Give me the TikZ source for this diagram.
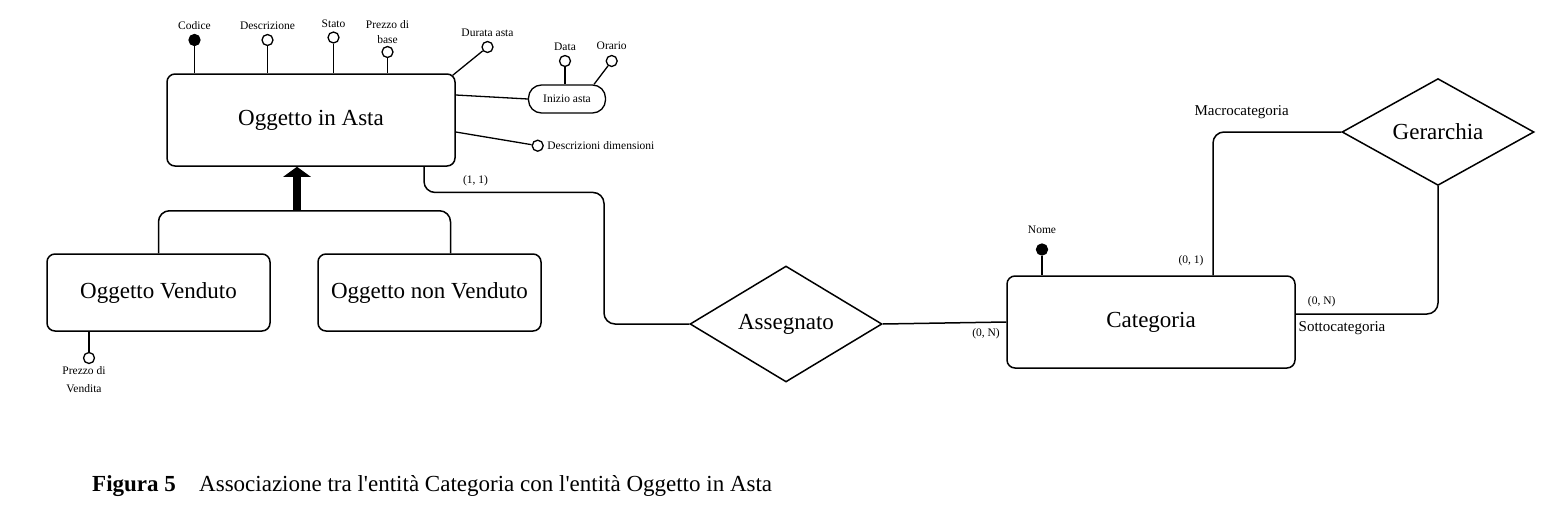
\documentclass[tikz,border=0pt]{standalone}
\usepackage{fontspec}
\setmainfont{Liberation Serif}
\usepackage{tikz}
\usetikzlibrary{shapes.geometric}
\usetikzlibrary{arrows.meta}

\tikzset{
  entity/.style={draw, line width=1.5pt, rounded corners=8pt, minimum width=288pt, minimum height=92pt, font=\fontsize{23}{27}\selectfont},
  relation/.style={draw, diamond, line width=1.5pt, minimum width=192pt, minimum height=96pt, inner sep=0pt, font=\fontsize{23}{27}\selectfont},
  attr/.style={draw, circle, line width=1.3pt, fill=white, inner sep=0pt, minimum size=11pt},
  keyattr/.style={attr, fill=black},
  pill/.style={draw, line width=1.3pt, rounded corners=13pt, minimum width=77pt, minimum height=28pt, font=\fontsize{11.5}{14}\selectfont},
  small/.style={font=\fontsize{11.5}{15}\selectfont, align=center},
  role/.style={font=\fontsize{15}{18}\selectfont},
  link/.style={line width=1.5pt, rounded corners=11pt},
  thin link/.style={line width=1.3pt},
}

\begin{document}
\begin{tikzpicture}[x=1pt, y=-1pt, every label/.style={small}, label distance=1pt]

\useasboundingbox (0,0) rectangle (1558,522);

% entita' e associazioni
\node[entity] (asta) at ( 311.0, 120.0) {Oggetto in Asta};
\node[entity, minimum width=223pt, minimum height=77pt] (ov)  at ( 158.5, 292.5) {Oggetto Venduto};
\node[entity, minimum width=223pt, minimum height=77pt] (onv) at ( 429.5, 292.5) {Oggetto non Venduto};
\node[entity] (cat) at (1151.0, 322.0) {Categoria};
\node[relation] (ass) at ( 786.0, 324.0) {Assegnato};
\node[relation] (ger) at (1438.0, 132.0) {Gerarchia};
\node[pill] (inizio) at ( 567.0,  99.0) {Inizio asta};

% attributi
\node[keyattr, label={above:Codice}]      (codice) at ( 194.5,  40.0) {};
\node[attr, label={above:Descrizione}]    (descr)  at ( 267.5,  40.0) {};
\node[attr, label={[label distance=0pt]above:Stato}] (stato) at ( 333.5,  37.5) {};
\node[attr, label={[label distance=-1pt]above:Prezzo di\\base}] (pbase) at ( 387.5,  52.0) {};
\node[attr, label={above:Durata asta}]    (durata) at ( 487.5,  47.0) {};
\node[attr, label={[label distance=1pt]above:Data}]   (data)   at ( 565.0,  61.0) {};
\node[attr, label={[label distance=2pt]above:Orario}] (orario) at ( 611.7,  61.0) {};
\node[attr, label={[label distance=0pt]right:Descrizioni dimensioni}] (ddim) at ( 537.7, 145.7) {};
\node[attr, label={[label distance=-1pt, xshift=-5pt]below:Prezzo di\\[3pt]Vendita}] (pvend) at (  89.0, 358.0) {};
\node[keyattr, label={[label distance=6pt]above:Nome}] (nome) at (1042.0, 249.5) {};

\draw[thin link] (codice) -- (codice |- asta.north);
\draw[thin link] (descr)  -- (descr  |- asta.north);
\draw[thin link] (stato)  -- (stato  |- asta.north);
\draw[thin link] (pbase)  -- (pbase  |- asta.north);
\draw[thin link] (durata) -- ([xshift=-3pt,yshift=-2pt]asta.north east);
\draw[thin link] ([yshift=25pt]asta.east) -- (inizio.west);
\draw[thin link] (data)   -- (data |- inizio.north);
\draw[thin link] (orario) -- ([xshift=27pt]inizio.north);
\draw[thin link] ([yshift=-12pt]asta.east) -- (ddim);
\draw[thin link] (pvend)  -- (pvend |- ov.south);
\draw[thin link] (nome)   -- (nome |- cat.north);

% generalizzazione
\coordinate (gen) at ([xshift=-14pt,yshift=-44pt]asta.south);
\draw[link] (ov.north) |- (gen) -| ([xshift=21pt]onv.north);
\draw[line width=8pt, -{Triangle[width=27pt,length=10pt]}] (gen) -- (gen |- asta.south);

% collegamenti
\draw[link] ([xshift=113pt]asta.south) |- ++(180,25.7) |- (ass.west);
\draw[link] (ass.east) -- (cat.west);
\draw[link] ([xshift=62pt]cat.north) |- (ger.west);
\draw[link] ([yshift=8pt]cat.east) -| (ger.south);

% cardinalita' e ruoli
\node[small] (c11)  at ( 475.5, 181.0) {(1, 1)};
\node[small] (c0n)  at ( 986.0, 334.0) {(0, N)};
\node[small] (c01)  at (1191.0, 261.0) {(0, 1)};
\node[small] (c0ns) at (1321.7, 301.5) {(0, N)};
\node[role] (macro) at (1241.7, 111.7) {Macrocategoria};
\node[role] (sotto) at (1342.0, 328.0) {Sottocategoria};

% didascalia
\node[anchor=west, inner sep=0pt, font=\fontsize{23}{27}\selectfont\bfseries] (fig) at (  92.0, 486.0) {Figura 5};
\node[anchor=west, inner sep=0pt, font=\fontsize{23}{27}\selectfont] (cap) at ( 199.0, 486.0) {Associazione tra l\textquotesingle entità Categoria con l\textquotesingle entità Oggetto in Asta};

\end{tikzpicture}
\end{document}
